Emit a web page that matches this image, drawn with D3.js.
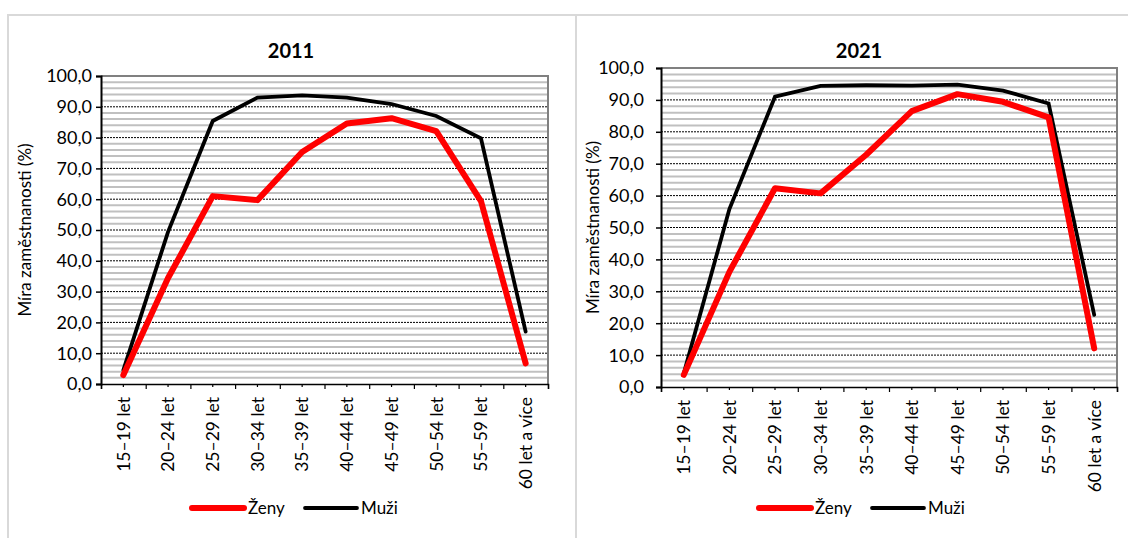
<!DOCTYPE html>
<html>
<head>
<meta charset="utf-8">
<script src="https://cdn.jsdelivr.net/npm/d3@7"></script>
<style>
  html, body { margin: 0; padding: 0; background: #fff; }
  svg { display: block; font-family: Lato, "Open Sans", sans-serif; }
</style>
</head>
<body>
<svg id="chart" width="1128" height="538"></svg>
<script>
// Age groups on the horizontal axis
const categories = ["15–19 let", "20–24 let", "25–29 let", "30–34 let", "35–39 let",
                    "40–44 let", "45–49 let", "50–54 let", "55–59 let", "60 let a více"];

// Employment rate (%) by age group
const zeny2011 = [2.9, 34.4, 61.0, 59.7, 75.3, 84.6, 86.3, 82.1, 59.4, 6.7];
const muzi2011 = [4.5, 49.4, 85.4, 93.0, 93.7, 93.0, 90.9, 87.0, 79.8, 17.0];
const zeny2021 = [3.8, 36.1, 62.3, 60.7, 72.8, 86.5, 91.8, 89.4, 84.5, 12.1];
const muzi2021 = [4.3, 55.8, 91.0, 94.4, 94.6, 94.5, 94.8, 92.9, 88.9, 22.6];

// Value axis ticks
const yTicks = [0, 10, 20, 30, 40, 50, 60, 70, 80, 90, 100];
const yMinorStep = 2;

const seriesNames = ["Ženy", "Muži"];
const yAxisTitle = "Míra zaměstnanosti (%)";

const svg = d3.select("#chart");

// Panel frames
svg.append("path")
  .attr("d", "M8,540 V15 H1130 M576,15 V540")
  .attr("fill", "none")
  .attr("stroke", "#d9d9d9")
  .attr("stroke-width", 2);

const panels = [
  { title: "2011", zeny: zeny2011, muzi: muzi2011,
    plot: { x0: 101, x1: 548, y0: 76, y1: 384 },
    labelGap: 9, yTitleX: 25, titleX: 291, legendX: 192, labelTop: 397 },
  { title: "2021", zeny: zeny2021, muzi: muzi2021,
    plot: { x0: 661, x1: 1117, y0: 68, y1: 387 },
    labelGap: 17, yTitleX: 593, titleX: 859, legendX: 759, labelTop: 400 }
];

const fmt = v => d3.format(".1f")(v).replace(".", ",");

panels.forEach(p => {
  const { x0, x1, y0, y1 } = p.plot;
  const g = svg.append("g");

  const x = d3.scaleBand().domain(categories).range([x0, x1]).padding(0);
  const xEdge = d3.scaleLinear().domain([0, categories.length]).range([x0, x1]);
  const y = d3.scaleLinear().domain([0, 100]).range([y1, y0]);

  // Minor horizontal gridlines
  const minor = d3.range(0, 100 + 1e-9, yMinorStep).filter(v => v % 10 !== 0);
  g.append("g").selectAll("line").data(minor).join("line")
    .attr("x1", x0).attr("x2", x1)
    .attr("y1", d => y(d)).attr("y2", d => y(d))
    .attr("stroke", "#c0c0c0").attr("stroke-width", 2);

  // Major dashed gridlines
  g.append("g").selectAll("line").data(yTicks.filter(v => v > 0 && v < 100)).join("line")
    .attr("x1", x0).attr("x2", x1)
    .attr("y1", d => y(d)).attr("y2", d => y(d))
    .attr("stroke", "#000").attr("stroke-width", 1)
    .attr("stroke-dasharray", "2,1");

  // Plot area border (top & right)
  g.append("path")
    .attr("d", `M${x0},${y0} H${x1} V${y1}`)
    .attr("fill", "none").attr("stroke", "#808080").attr("stroke-width", 2);

  // Y axis
  const yAxis = g.append("g").attr("transform", `translate(${x0},0)`)
    .call(d3.axisLeft(y).tickValues(yTicks).tickSize(5).tickFormat(() => ""));
  yAxis.select(".domain").attr("stroke", "#000").attr("stroke-width", 2);
  yAxis.selectAll(".tick line").attr("stroke", "#000").attr("stroke-width", 1.5);

  g.append("g").selectAll("text").data(yTicks).join("text")
    .attr("x", x0 - p.labelGap).attr("y", d => y(d))
    .attr("dy", "0.36em").attr("text-anchor", "end")
    .attr("font-size", 18).attr("fill", "#000")
    .text(fmt);

  // X axis: long ticks at category boundaries, short ticks at centres
  const xAxisMajor = g.append("g").attr("transform", `translate(0,${y1})`)
    .call(d3.axisBottom(xEdge).tickValues(d3.range(0, categories.length + 1))
      .tickSize(5).tickFormat(() => ""));
  xAxisMajor.select(".domain").attr("stroke", "#000").attr("stroke-width", 1.5);
  xAxisMajor.selectAll(".tick line").attr("stroke", "#000").attr("stroke-width", 1.2);

  const xAxisMinor = g.append("g").attr("transform", `translate(0,${y1})`)
    .call(d3.axisBottom(x).tickSize(3).tickFormat(() => ""));
  xAxisMinor.select(".domain").remove();
  xAxisMinor.selectAll(".tick line").attr("stroke", "#000").attr("stroke-width", 1.2);

  g.append("g").selectAll("text").data(categories).join("text")
    .attr("transform", d => `translate(${x(d) + x.bandwidth() / 2},${p.labelTop}) rotate(-90)`)
    .attr("dy", "0.36em").attr("text-anchor", "end")
    .attr("font-size", 17.5).attr("fill", "#000")
    .text(d => d);

  // Series lines
  const line = d3.line()
    .x((d, i) => x(categories[i]) + x.bandwidth() / 2)
    .y(d => y(d));

  g.append("path").datum(p.muzi)
    .attr("d", line).attr("fill", "none")
    .attr("stroke", "#000").attr("stroke-width", 3.8)
    .attr("stroke-linejoin", "miter").attr("stroke-linecap", "round");

  g.append("path").datum(p.zeny)
    .attr("d", line).attr("fill", "none")
    .attr("stroke", "#ff0000").attr("stroke-width", 6)
    .attr("stroke-linejoin", "round").attr("stroke-linecap", "round");

  // Title
  g.append("text")
    .attr("x", p.titleX).attr("y", 58)
    .attr("text-anchor", "middle")
    .attr("font-size", 20).attr("font-weight", "bold").attr("fill", "#000")
    .text(p.title);

  // Y axis title
  g.append("text")
    .attr("transform", `translate(${p.yTitleX},${(y0 + y1) / 2}) rotate(-90)`)
    .attr("dy", "0.36em").attr("text-anchor", "middle")
    .attr("font-size", 17).attr("fill", "#000")
    .text(yAxisTitle);

  // Legend
  const legend = g.append("g").attr("transform", `translate(${p.legendX},508)`);
  const items = [
    { name: seriesNames[0], color: "#ff0000", width: 6 },
    { name: seriesNames[1], color: "#000", width: 3.8 }
  ];
  let cx = 0;
  items.forEach(it => {
    legend.append("line")
      .attr("x1", cx).attr("x2", cx + 52).attr("y1", 0).attr("y2", 0)
      .attr("stroke", it.color).attr("stroke-width", it.width)
      .attr("stroke-linecap", "round");
    legend.append("text")
      .attr("x", cx + 56).attr("y", 0).attr("dy", "0.36em")
      .attr("font-size", 17).attr("fill", "#000")
      .text(it.name);
    cx += 113;
  });
});
</script>
</body>
</html>
